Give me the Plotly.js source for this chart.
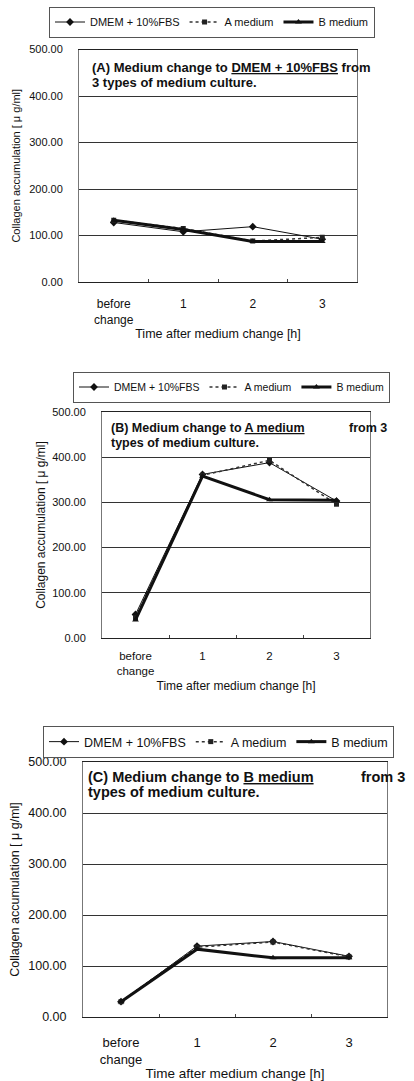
<!DOCTYPE html>
<html>
<head>
<meta charset="utf-8">
<script src="https://cdn.plot.ly/plotly-3.0.1.min.js"></script>
<style>html,body{margin:0;padding:0;background:#fff;}#chart{width:414px;height:1081px;}</style>
</head>
<body>
<div id="chart"></div>
<script>
// Categories (time after medium change)
const categories = ["before<br>change", "1", "2", "3"];
const seriesNames = ["DMEM + 10%FBS", "A medium", "B medium"];

// Panel A: medium change to DMEM + 10%FBS
const panelA_DMEM = [128, 108, 119, 92];
const panelA_A    = [133, 115, 88, 96];
const panelA_B    = [133, 113, 87, 87];

// Panel B: medium change to A medium
const panelB_DMEM = [52, 362, 388, 303];
const panelB_A    = [45, 360, 393, 296];
const panelB_B    = [40, 358, 306, 305];

// Panel C: medium change to B medium
const panelC_DMEM = [30, 139, 148, 119];
const panelC_A    = [30, 137, 147, 118];
const panelC_B    = [30, 133, 116, 116];

const yTickVals = [0, 100, 200, 300, 400, 500];
const yTickText = ["0.00", "100.00", "200.00", "300.00", "400.00", "500.00"];

const W = 414, H = 1081;
const px = v => v / W;
const py = v => 1 - v / H;
const FAM = "Liberation Sans, Arial, sans-serif";

const styles = [
  {line: {color: "#111", width: 1, dash: "solid"}, marker: {symbol: "diamond", size: 6, color: "#111"}},
  {line: {color: "#333", width: 1.5, dash: "dot"}, marker: {symbol: "square", size: 5, color: "#222"}},
  {line: {color: "#111", width: 3, dash: "solid"}, marker: {symbol: "triangle-up", size: 6, color: "#111"}}
];

const panels = [
  {data: [panelA_DMEM, panelA_A, panelA_B], xa: "x", ya: "y", legend: "legend"},
  {data: [panelB_DMEM, panelB_A, panelB_B], xa: "x2", ya: "y2", legend: "legend2"},
  {data: [panelC_DMEM, panelC_A, panelC_B], xa: "x3", ya: "y3", legend: "legend3"}
];

const traces = [];
panels.forEach(p => {
  p.data.forEach((vals, i) => {
    traces.push({
      type: "scatter", mode: "lines+markers",
      x: categories, y: vals, name: seriesNames[i],
      xaxis: p.xa, yaxis: p.ya, legend: p.legend,
      line: styles[i].line, marker: styles[i].marker,
      hoverinfo: "x+y+name"
    });
  });
});

function xAxis(domain, anchor, tickSize, tickStand, titleSize, titleStand) {
  return {
    domain: domain, anchor: anchor, type: "category",
    categoryorder: "array", categoryarray: categories,
    range: [-0.5, 3.5], tickson: "boundaries", ticks: "inside", ticklen: 3,
    tickcolor: "#444", showline: true, linecolor: "#222", linewidth: 1, mirror: true,
    showgrid: false, zeroline: false,
    tickfont: {family: FAM, size: tickSize, color: "#111"}, ticklabelstandoff: tickStand,
    title: {text: "Time after medium change [h]", font: {family: FAM, size: titleSize, color: "#111"}, standoff: titleStand},
    fixedrange: true
  };
}
function yAxis(domain, anchor, tickSize, titleSize, titleStand) {
  return {
    domain: domain, anchor: anchor, range: [0, 500],
    tickvals: yTickVals, ticktext: yTickText, ticks: "",
    showgrid: true, gridcolor: "#333", gridwidth: 1, zeroline: false,
    showline: true, linecolor: "#777", linewidth: 1, mirror: true,
    tickfont: {family: FAM, size: tickSize, color: "#111"}, ticklabelstandoff: 13,
    title: {text: "Collagen accumulation [ μ g/ml]", font: {family: FAM, size: titleSize, color: "#111"}, standoff: titleStand},
    fixedrange: true
  };
}

function legendCfg(x, yCenter, size) {
  return {
    orientation: "h", x: px(x), y: py(yCenter), xanchor: "left", yanchor: "middle",
    bordercolor: "#555", borderwidth: 1, bgcolor: "#fff",
    font: {family: FAM, size: size, color: "#111"},
    itemwidth: 30, tracegroupgap: 0, traceorder: "normal"
  };
}

function titleLine(x, y, text, size) {
  return {xref: "paper", yref: "paper", x: px(x), y: py(y), xanchor: "left", yanchor: "middle",
          align: "left", showarrow: false, text: "<b>" + text + "</b>",
          font: {family: FAM, size: size, color: "#111", weight: "bold"}};
}

const layout = {
  width: W, height: H, autosize: false,
  margin: {l: 0, r: 0, t: 0, b: 0},
  paper_bgcolor: "#fff", plot_bgcolor: "#fff",
  showlegend: true,
  xaxis: xAxis([px(79), px(357)], "y", 12, 11, 12.5, 3),
  yaxis: yAxis([py(282), py(49.5)], "x", 11, 11, 6),
  xaxis2: xAxis([px(102), px(370)], "y2", 11.5, 7, 12, 5),
  yaxis2: yAxis([py(638), py(412)], "x2", 11, 12, 3),
  xaxis3: xAxis([px(83), px(387)], "y3", 13, 13, 13.5, 12),
  yaxis3: yAxis([py(1017), py(762)], "x3", 12.5, 12.5, 5),
  legend: legendCfg(49, 22, 11),
  legend2: legendCfg(73, 387, 10.5),
  legend3: legendCfg(43, 742, 12.5),
  annotations: [
    titleLine(90, 68, "(A) Medium change to <u>DMEM + 10%FBS</u> from", 13),
    titleLine(90, 82, "3 types of medium culture.", 13),
    titleLine(109, 428, "(B) Medium change to <u>A medium</u>", 12.5),
    titleLine(347, 428, "from 3", 12.5),
    titleLine(109, 443, "types of medium culture.", 12.5),
    titleLine(86, 777, "(C) Medium change to <u>B medium</u>", 14.5),
    titleLine(359, 777, "from 3", 14.5),
    titleLine(86, 792, "types of medium culture.", 14.5)
  ]
};

Plotly.newPlot("chart", traces, layout, {displayModeBar: false, staticPlot: true});
</script>
</body>
</html>
